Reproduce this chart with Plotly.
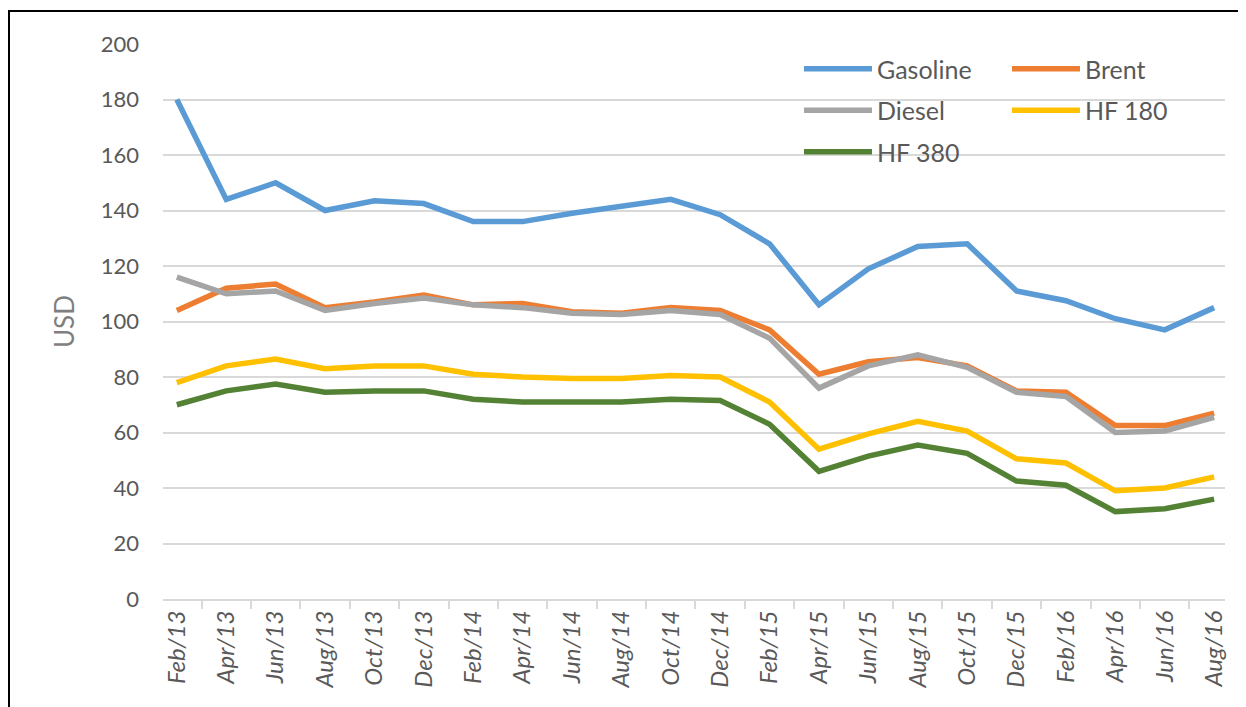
import plotly.graph_objects as go

months = [
    'Feb/13', 'Apr/13', 'Jun/13', 'Aug/13', 'Oct/13', 'Dec/13',
    'Feb/14', 'Apr/14', 'Jun/14', 'Aug/14', 'Oct/14', 'Dec/14',
    'Feb/15', 'Apr/15', 'Jun/15', 'Aug/15', 'Oct/15', 'Dec/15',
    'Feb/16', 'Apr/16', 'Jun/16', 'Aug/16',
]

gasoline = [180, 144, 150, 140, 143.5, 142.5, 136, 136, 139, 141.5, 144,
            138.5, 128, 106, 119, 127, 128, 111, 107.5, 101, 97, 105]
brent = [104, 112, 113.5, 105, 107, 109.5, 106, 106.5, 103.5, 103, 105,
         104, 97, 81, 85.5, 87, 84, 75, 74.5, 62.5, 62.5, 67]
diesel = [116, 110, 111, 104, 106.5, 108.5, 106, 105, 103, 102.5, 104,
          102.5, 94, 76, 84, 88, 83.5, 74.5, 73, 60, 60.5, 65.5]
hf180 = [78, 84, 86.5, 83, 84, 84, 81, 80, 79.5, 79.5, 80.5,
         80, 71, 54, 59.5, 64, 60.5, 50.5, 49, 39, 40, 44]
hf380 = [70, 75, 77.5, 74.5, 75, 75, 72, 71, 71, 71, 72,
         71.5, 63, 46, 51.5, 55.5, 52.5, 42.5, 41, 31.5, 32.5, 36]

y_ticks = [0, 20, 40, 60, 80, 100, 120, 140, 160, 180, 200]

series = [
    ('Gasoline', gasoline, '#5B9BD5', 'legend'),
    ('Brent', brent, '#ED7D31', 'legend2'),
    ('Diesel', diesel, '#A5A5A5', 'legend'),
    ('HF 180', hf180, '#FFC000', 'legend2'),
    ('HF 380', hf380, '#548235', 'legend'),
]

font_family = "Lato, 'Open Sans', sans-serif"
text_grey = '#595959'

fig = go.Figure()
for name, values, color, leg in series:
    fig.add_trace(go.Scatter(
        x=months, y=values, name=name, mode='lines',
        line=dict(color=color, width=5.5),
        legend=leg, legendgroup=name,
    ))

# the page body adds an 8px offset, so the figure is 8px smaller
# and reference pixel positions are shifted by 8
OFF = 8
W, H = 1246 - OFF, 707 - OFF
left, right, top, bottom = 163 - OFF, 21, 44 - OFF, 108
pw = W - left - right
ph = H - top - bottom


def px_x(p):
    return (p - OFF - left) / pw


def px_y(p):
    return (H - bottom - (p - OFF)) / ph


legend_style = dict(
    font=dict(family=font_family, size=25, color=text_grey),
    bgcolor='rgba(0,0,0,0)',
    tracegroupgap=6,
    itemwidth=68,
    xanchor='left', yanchor='top',
)

# frame: only the left and top edges show in the picture
fx0, fy_top = px_x(9), px_y(11)
fx1, fy_bot = px_x(1300), px_y(760)
frame_path = f'M {fx0},{fy_bot} L {fx0},{fy_top} L {fx1},{fy_top}'

fig.update_layout(
    width=W, height=H,
    margin=dict(l=left, r=right, t=top, b=bottom),
    plot_bgcolor='white', paper_bgcolor='white',
    font=dict(family=font_family, color=text_grey),
    showlegend=True,
    legend=dict(x=px_x(799), y=px_y(46), **legend_style),
    legend2=dict(x=px_x(1007), y=px_y(46), **legend_style),
    xaxis=dict(
        type='category',
        range=[-0.28, 21.22],
        tickangle=-90,
        tickfont=dict(family=font_family, size=24, color=text_grey,
                      style='italic'),
        showgrid=False,
        showline=True, linecolor='#D9D9D9', linewidth=2,
        ticks='outside', tickson='boundaries', ticklen=8,
        tickcolor='#D9D9D9', tickwidth=2,
    ),
    yaxis=dict(
        range=[0, 200],
        tickvals=y_ticks,
        tickfont=dict(family=font_family, size=22, color=text_grey),
        showgrid=True, gridcolor='#D9D9D9', gridwidth=2,
        zeroline=False, showline=False,
        ticklabelstandoff=23,
        title=dict(text='USD', font=dict(family=font_family, size=26,
                                         color='#7F7F7F'), standoff=18),
    ),
    shapes=[
        # white patch behind the legend
        dict(type='rect', xref='paper', yref='paper', layer='between',
             x0=px_x(783), x1=px_x(1202), y0=px_y(178), y1=px_y(50),
             fillcolor='white', line=dict(width=0)),
        dict(type='path', xref='paper', yref='paper', layer='above',
             path=frame_path, line=dict(color='black', width=2)),
    ],
)

fig.write_html("out.html")
